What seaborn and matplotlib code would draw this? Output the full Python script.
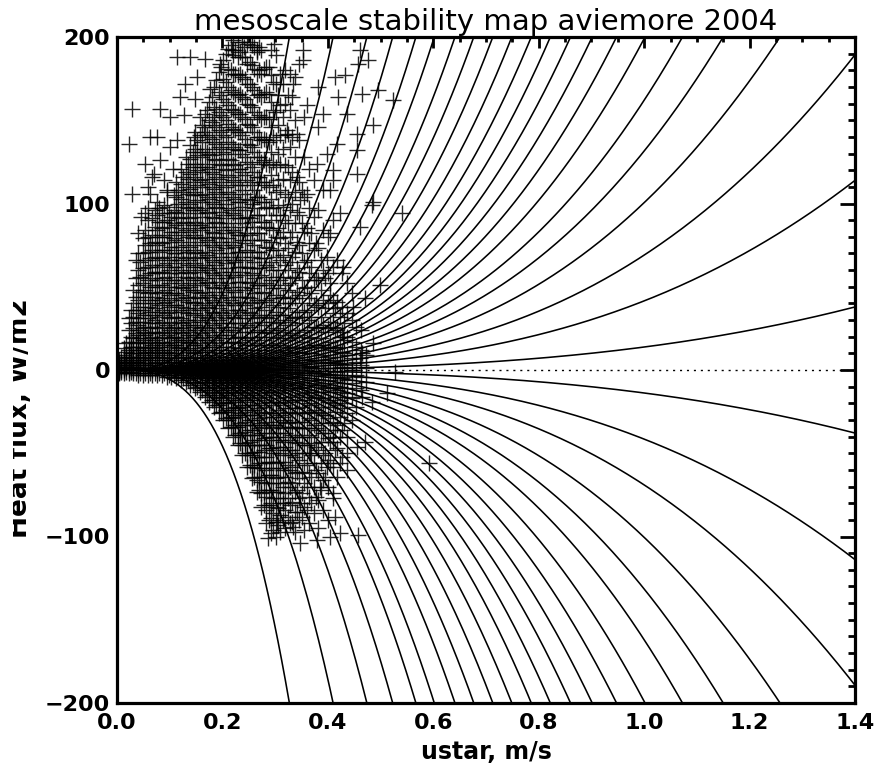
import numpy as np
import pandas as pd
import matplotlib
matplotlib.use("Agg")
import matplotlib.pyplot as plt
from matplotlib.ticker import MultipleLocator, FormatStrFormatter
from matplotlib.transforms import Bbox, TransformedBbox
import seaborn as sns

# ---------------- data ----------------
title = "mesoscale stability map aviemore 2004"
xlabel = "ustar, m/s"
ylabel = "Heat flux, W/m2"

stability_coeffs = [13.8, 41.5, 69, 100.5, 131.5, 162, 199, 235, 273, 314, 360,
                    412, 476, 552, 645, 759, 917, 1097, 1398, 1878, 2902, 5720]

# dense part of the scatter, organised in ustar columns (first set)
col_u = [0.004, 0.013, 0.022, 0.031, 0.040, 0.049, 0.058, 0.067, 0.076, 0.085,
         0.094, 0.103, 0.112, 0.121, 0.130, 0.139, 0.148, 0.157, 0.166, 0.175,
         0.184, 0.193, 0.202, 0.211, 0.220, 0.229, 0.238, 0.247, 0.256, 0.265,
         0.274, 0.283, 0.292, 0.301, 0.310, 0.319, 0.328, 0.337, 0.346, 0.355,
         0.364, 0.373, 0.382, 0.391, 0.400, 0.409, 0.418, 0.427, 0.436, 0.445,
         0.454, 0.463, 0.472]
col_h = [
    [-2, -1, 0, 1, 2, 4, 6],
    [-2, 0, 1, 2, 4, 6, 9, 13],
    [-2, 0, 1, 3, 5, 8, 12, 17, 24, 31],
    [-2, 0, 2, 4, 7, 10, 14, 19, 25, 32, 40, 48],
    [-3, 0, 2, 5, 8, 12, 16, 21, 27, 34, 42, 51, 60, 70, 82],
    [-3, 0, 3, 6, 9, 13, 18, 23, 29, 36, 44, 52, 61, 70, 79],
    [-3, 0, 3, 6, 10, 14, 19, 25, 31, 38, 46, 54, 62, 71, 80, 90, 97],
    [-3, 0, 3, 7, 11, 15, 20, 26, 33, 40, 47, 55, 63, 72, 81, 91],
    [-3, 0, 4, 8, 12, 16, 22, 28, 35, 42, 50, 58, 66, 75, 84, 93, 101],
    [-3, 0, 4, 8, 12, 17, 23, 29, 36, 43, 51, 59, 67, 76, 85, 94],
    [-4, -1, 3, 7, 11, 16, 21, 27, 34, 41, 48, 56, 64, 72, 81, 90, 98, 107],
    [-4, -1, 3, 7, 12, 17, 22, 28, 35, 42, 50, 58, 66, 74, 83, 92],
    [-5, -2, 2, 6, 10, 15, 20, 26, 32, 39, 46, 54, 62, 70, 78, 87, 95, 104, 113],
    [-6, -3, 1, 5, 9, 14, 19, 25, 31, 38, 45, 52, 60, 68, 77, 85, 94, 103, 112, 121],
    [-7, -4, 0, 4, 8, 13, 18, 24, 30, 37, 44, 51, 59, 67, 75, 84, 92, 101, 110, 119, 128],
    [-9, -5, -1, 3, 7, 12, 17, 23, 29, 36, 43, 50, 58, 66, 74, 83, 91, 100, 109, 118, 127, 135],
    [-11, -7, -3, 1, 5, 10, 15, 21, 27, 34, 41, 48, 56, 64, 72, 81, 89, 98, 107, 116, 124, 133, 143],
    [-13, -9, -5, -1, 3, 8, 13, 19, 25, 32, 39, 46, 54, 62, 70, 79, 87, 96, 105, 114, 122, 131, 141, 152],
    [-16, -12, -8, -4, 0, 4, 9, 14, 20, 26, 33, 40, 47, 55, 63, 71, 80, 88, 97, 106, 115, 124, 133, 143, 154],
    [-19, -15, -11, -7, -3, 1, 6, 11, 17, 23, 30, 37, 44, 52, 60, 68, 77, 86, 94, 103, 112, 121, 130, 140, 150, 161],
    [-22, -18, -14, -10, -6, -2, 3, 8, 14, 20, 27, 34, 41, 49, 57, 65, 74, 82, 91, 100, 109, 118, 127, 137, 147, 158, 170],
    [-26, -21, -17, -13, -9, -5, -1, 4, 10, 16, 23, 30, 37, 45, 53, 61, 70, 79, 88, 97, 106, 115, 124, 134, 144, 155, 167, 179],
    [-30, -25, -20, -16, -12, -8, -4, 1, 6, 12, 19, 26, 33, 41, 49, 57, 66, 75, 84, 93, 102, 111, 121, 131, 141, 152, 163, 175, 186],
    [-35, -30, -25, -20, -15, -11, -7, -3, 2, 8, 14, 21, 28, 36, 44, 52, 61, 70, 79, 88, 97, 107, 117, 127, 137, 148, 159, 170, 181, 193],
    [-40, -34, -29, -24, -19, -14, -10, -6, -1, 4, 10, 17, 24, 32, 40, 48, 57, 66, 75, 84, 94, 104, 114, 124, 134, 145, 156, 167, 178, 189, 198],
    [-45, -39, -34, -28, -23, -18, -13, -8, -4, 1, 7, 13, 20, 28, 36, 44, 53, 62, 71, 81, 91, 101, 111, 121, 132, 143, 154, 165, 177, 188, 197],
    [-51, -45, -39, -33, -27, -22, -17, -12, -7, -2, 4, 10, 17, 25, 33, 41, 50, 59, 68, 78, 88, 98, 108, 119, 130, 141, 152, 164, 176, 188, 197],
    [-58, -51, -45, -39, -33, -27, -21, -16, -11, -6, -1, 5, 12, 19, 27, 35, 44, 53, 62, 72, 82, 92, 103, 114, 125, 136, 148, 160, 172, 184, 196],
    [-65, -58, -51, -45, -39, -33, -27, -21, -15, -10, -5, 1, 8, 15, 23, 31, 40, 49, 58, 68, 78, 89, 100, 111, 122, 134, 146, 158, 170, 183, 195],
    [-73, -66, -59, -52, -45, -39, -33, -27, -21, -15, -9, -4, 2, 9, 16, 24, 33, 42, 51, 61, 71, 82, 93, 104, 116, 128, 140, 152, 165, 178, 191],
    [-82, -74, -67, -59, -52, -45, -38, -32, -26, -20, -14, -8, -2, 5, 12, 20, 29, 38, 47, 57, 67, 78, 89, 101, 113, 125, 138, 151, 164, 178, 192],
    [-92, -84, -76, -68, -60, -52, -45, -38, -31, -25, -18, -12, -6, 0, 7, 15, 23, 32, 42, 52, 63, 74, 86, 98, 111, 124, 138, 152, 167, 182],
    [-98, -89, -80, -72, -63, -55, -47, -40, -33, -26, -19, -13, -7, 0, 7, 15, 24, 33, 43, 54, 65, 77, 90, 103, 117, 131, 146, 161, 177, 192],
    [-100, -91, -82, -73, -65, -56, -48, -40, -33, -26, -19, -12, -6, 1, 8, 16, 25, 35, 45, 56, 68, 80, 93, 107, 122, 138, 155, 172, 189],
    [-97, -87, -77, -68, -59, -50, -42, -34, -27, -20, -13, -7, 0, 7, 15, 24, 33, 43, 54, 66, 79, 93, 108, 124, 141, 159, 178],
    [-95, -84, -74, -64, -55, -46, -38, -30, -23, -16, -9, -3, 4, 12, 21, 30, 40, 51, 63, 76, 90, 106, 123, 141, 160, 180],
    [-92, -81, -70, -60, -51, -42, -34, -26, -19, -12, -5, 2, 10, 19, 29, 40, 52, 65, 80, 96, 114, 134, 156, 178],
    [-97, -85, -73, -62, -52, -43, -34, -26, -18, -11, -4, 3, 11, 20, 31, 43, 56, 71, 88, 107, 128, 150, 176],
    [-90, -77, -65, -54, -44, -35, -26, -18, -11, -4, 3, 11, 21, 32, 45, 59, 75, 93, 113, 138, 184],
    [-96, -82, -68, -56, -45, -35, -26, -18, -10, -3, 4, 13, 23, 35, 49, 65, 83, 104, 128, 152],
    [-92, -76, -62, -50, -39, -29, -20, -12, -5, 2, 10, 19, 30, 43, 58, 76, 97, 121],
    [-86, -70, -56, -44, -33, -24, -15, -8, -1, 6, 15, 26, 39, 54, 72, 92, 114],
    [-95, -78, -62, -48, -36, -26, -17, -9, -2, 5, 14, 25, 38, 54, 73, 96],
    [-84, -66, -51, -38, -27, -17, -9, -2, 6, 15, 27, 42, 60, 84, 108],
    [-90, -70, -54, -41, -29, -19, -11, -3, 4, 13, 25, 40, 58, 80],
    [-77, -58, -43, -31, -20, -11, -3, 5, 14, 26, 42, 62, 90],
    [-64, -47, -33, -21, -12, -4, 4, 13, 25, 41, 66],
    [-52, -36, -23, -13, -5, 2, 11, 23, 38, 58],
    [-40, -26, -14, -6, 1, 9, 20, 34, 52],
    [-30, -17, -8, 0, 7, 17, 30, 46],
    [-22, -11, -3, 5, 14, 26],
    [-12, -4, 3, 12, 24],
    [-7, 1, 9],
]

# dense part, second (interleaved) set of columns
col2_u = [0.0085, 0.0175, 0.0265, 0.0355, 0.0445, 0.0535, 0.0625, 0.0715, 0.0805,
          0.0895, 0.0985, 0.1075, 0.1165, 0.1255, 0.1345, 0.1435, 0.1525, 0.1615,
          0.1705, 0.1795, 0.1885, 0.1975, 0.2065, 0.2155, 0.2245, 0.2335, 0.2425,
          0.2515, 0.2605, 0.2695, 0.2785, 0.2875, 0.2965, 0.3055, 0.3145, 0.3235,
          0.3325, 0.3415, 0.3505, 0.3595, 0.3685, 0.3775, 0.3865, 0.3955, 0.4045,
          0.4135, 0.4225, 0.4315]
col2_h = [
    [-1, 0, 2, 3, 5, 8],
    [-1, 1, 2, 3, 5, 7, 11, 16],
    [-1, 1, 2, 4, 6, 10, 14, 20, 28, 36],
    [-2, 1, 3, 5, 8, 12, 17, 22, 29, 36, 44, 55],
    [-2, 1, 3, 6, 10, 14, 19, 24, 31, 38, 47, 56, 65],
    [-2, 1, 4, 7, 11, 16, 21, 26, 33, 40, 48, 57, 66, 75, 84, 94],
    [-2, 1, 4, 8, 12, 17, 22, 28, 35, 42, 50, 58, 67, 76],
    [-2, 1, 5, 9, 13, 18, 23, 30, 37, 44, 51, 59, 68, 77, 86, 96],
    [-2, 2, 6, 10, 14, 19, 25, 32, 39, 46, 54, 62, 71, 80, 89, 97],
    [-2, 2, 6, 10, 15, 20, 26, 33, 40, 47, 55, 63, 72, 80, 89, 99],
    [-3, 1, 5, 9, 14, 19, 24, 31, 38, 45, 52, 60, 68, 77, 86, 94],
    [-3, 1, 5, 10, 15, 20, 25, 32, 39, 46, 54, 62, 70, 79, 88, 96, 105],
    [-4, 0, 4, 8, 13, 18, 23, 29, 36, 43, 50, 58, 66, 74, 83, 91, 100, 108],
    [-5, -1, 3, 7, 12, 17, 22, 28, 35, 42, 49, 56, 64, 72, 81, 89, 98, 107, 116],
    [-6, -2, 2, 6, 11, 16, 21, 27, 34, 41, 48, 55, 63, 71, 80, 88, 97, 106, 115, 124],
    [-8, -3, 1, 5, 10, 15, 20, 26, 33, 40, 47, 54, 62, 70, 79, 87, 96, 105, 113, 122, 131],
    [-10, -5, -1, 3, 7, 12, 18, 24, 30, 37, 44, 52, 60, 68, 77, 85, 94, 102, 111, 120, 129, 138],
    [-12, -7, -3, 1, 6, 11, 16, 22, 29, 36, 43, 51, 59, 67, 75, 84, 92, 101, 110, 119, 128, 137, 147],
    [-15, -10, -6, -2, 2, 7, 12, 18, 24, 31, 38, 45, 53, 61, 69, 78, 86, 95, 104, 113, 122, 131, 141, 156],
    [-18, -13, -9, -5, -1, 4, 9, 15, 21, 28, 35, 42, 50, 58, 66, 75, 83, 92, 101, 110, 119, 129, 139, 149, 164],
    [-21, -16, -12, -8, -4, 1, 6, 12, 18, 25, 32, 39, 47, 55, 63, 72, 80, 89, 98, 107, 116, 126, 136, 146, 157, 174],
    [-25, -20, -15, -11, -7, -3, 2, 8, 14, 21, 28, 35, 43, 51, 59, 68, 77, 86, 95, 104, 113, 123, 133, 143, 153, 165, 182],
    [-29, -24, -19, -14, -10, -6, -1, 4, 10, 17, 24, 31, 39, 47, 55, 64, 73, 82, 91, 100, 110, 120, 130, 140, 150, 161, 173, 190],
    [-34, -28, -23, -18, -13, -9, -5, 0, 6, 12, 19, 26, 34, 42, 50, 59, 68, 77, 86, 96, 106, 116, 126, 136, 146, 157, 168, 180, 195],
    [-39, -33, -27, -22, -17, -12, -7, -2, 3, 9, 16, 23, 31, 39, 47, 56, 65, 74, 83, 93, 103, 113, 123, 133, 144, 155, 166, 178, 192],
    [-44, -38, -32, -26, -21, -15, -10, -5, 0, 6, 13, 20, 28, 36, 44, 53, 62, 71, 81, 91, 101, 111, 121, 132, 143, 154, 166, 178, 191],
    [-50, -44, -37, -31, -25, -19, -14, -9, -4, 2, 8, 15, 23, 31, 39, 48, 57, 66, 76, 86, 96, 106, 117, 128, 139, 151, 163, 175, 188],
    [-57, -50, -43, -36, -30, -24, -18, -13, -8, -3, 3, 10, 18, 26, 34, 43, 52, 61, 71, 81, 91, 102, 113, 124, 135, 147, 159, 172, 185, 197],
    [-64, -57, -49, -42, -36, -30, -24, -18, -12, -7, -1, 5, 12, 20, 28, 37, 46, 55, 65, 75, 86, 97, 108, 119, 131, 143, 155, 168, 181, 194],
    [-72, -64, -56, -49, -42, -35, -29, -23, -17, -11, -5, 1, 8, 15, 23, 32, 41, 51, 61, 71, 82, 93, 104, 116, 128, 140, 153, 166, 180, 194],
    [-81, -73, -64, -56, -48, -41, -34, -28, -22, -16, -10, -4, 3, 10, 18, 27, 36, 46, 56, 67, 78, 89, 101, 113, 126, 139, 152, 166, 181],
    [-90, -81, -72, -63, -55, -47, -40, -33, -26, -19, -13, -7, -1, 6, 14, 22, 31, 41, 51, 62, 73, 85, 97, 110, 123, 137, 151, 166, 182],
    [-96, -86, -77, -68, -59, -50, -42, -35, -28, -21, -15, -9, -3, 4, 12, 20, 29, 39, 49, 60, 72, 84, 97, 111, 125, 140, 156, 173],
    [-93, -83, -73, -64, -55, -46, -38, -31, -24, -17, -10, -4, 3, 11, 19, 28, 38, 49, 60, 72, 85, 99, 114, 130, 147, 165],
    [-90, -80, -70, -60, -51, -43, -35, -28, -21, -14, -8, -1, 6, 14, 23, 33, 44, 56, 69, 83, 98, 115, 133, 152, 172],
    [-88, -77, -67, -57, -48, -40, -32, -25, -18, -11, -5, 2, 9, 18, 27, 37, 48, 60, 73, 88, 104, 122, 142, 165],
    [-91, -79, -68, -58, -48, -39, -31, -23, -16, -9, -2, 5, 13, 22, 32, 43, 55, 68, 83, 100, 119, 140, 164],
    [-85, -72, -61, -50, -40, -31, -23, -15, -8, -1, 6, 14, 24, 35, 47, 61, 77, 95, 116, 142],
    [-88, -74, -61, -50, -40, -31, -22, -14, -7, 0, 8, 17, 28, 40, 54, 70, 88, 108],
    [-84, -70, -57, -45, -35, -25, -16, -9, -2, 6, 14, 24, 36, 50, 66, 85, 106],
    [-80, -64, -51, -40, -30, -21, -13, -6, 2, 10, 20, 32, 46, 62, 82],
    [-76, -60, -46, -35, -25, -16, -9, -2, 6, 15, 26, 40, 56, 76],
    [-72, -56, -43, -32, -22, -13, -6, 1, 9, 19, 32, 48, 66],
    [-64, -50, -38, -27, -18, -10, -3, 4, 12, 23, 37, 55],
    [-56, -43, -32, -22, -13, -6, 1, 8, 17, 29, 45],
    [-48, -36, -25, -16, -8, -1, 6, 14, 24, 37],
    [-40, -28, -18, -10, -3, 4, 11, 20, 32],
    [-32, -20, -11, -4, 3, 10, 18, 28],
]

# sparse / isolated points
sparse_u = [0.028, 0.022, 0.028, 0.053, 0.063, 0.076, 0.066, 0.063, 0.082, 0.082,
            0.095, 0.100, 0.100, 0.113, 0.114, 0.127, 0.120, 0.129, 0.139, 0.146,
            0.148, 0.152, 0.165, 0.167, 0.176, 0.184, 0.196, 0.218, 0.240, 0.265,
            0.297, 0.353, 0.353, 0.334, 0.382, 0.414, 0.433, 0.457, 0.477, 0.461,
            0.420, 0.465, 0.495, 0.524, 0.486, 0.455, 0.436, 0.391, 0.360, 0.382,
            0.322, 0.417, 0.455, 0.398, 0.380, 0.410, 0.410, 0.455, 0.404, 0.486,
            0.347, 0.483, 0.540, 0.461, 0.429, 0.499, 0.471, 0.448, 0.410, 0.429,
            0.486, 0.465, 0.527, 0.446, 0.423, 0.404, 0.398, 0.404, 0.461,
            0.591, 0.512, 0.483, 0.465, 0.436, 0.471, 0.455, 0.436, 0.423, 0.458,
            0.423, 0.404, 0.379, 0.347, 0.334, 0.287, 0.303, 0.414, 0.347, 0.315,
            0.410, 0.385, 0.436, 0.398, 0.366, 0.410,
            0.045, 0.058, 0.071, 0.090, 0.107, 0.036]
sparse_h = [157, 136, 106, 124, 140, 140, 116, 106, 157, 126,
            108, 152, 134, 138, 188, 153, 164, 172, 188, 140,
            163, 176, 146, 187, 169, 152, 184, 192, 194, 192,
            196, 192, 186, 172, 170, 176, 177, 184, 186, 192,
            164, 166, 168, 162, 147, 142, 154, 154, 159, 146,
            144, 136, 132, 130, 124, 120, 114, 118, 108, 101,
            102, 99, 94, 86, 62, 51, 43, 38, 34, 20,
            16, 10, -1, 0, 94, 82, 68, 52, 7,
            -56, -14, -19, -16, -16, -43, -46, -50, -56, -99,
            -98, -100, -102, -104, -94, -101, -91, -88, -80, -80,
            -74, -70, -60, -58, -50, -40,
            92, 110, 118, 114, 121, 66]

x_ticks = [0.0, 0.2, 0.4, 0.6, 0.8, 1.0, 1.2, 1.4]
y_ticks = [-200, -100, 0, 100, 200]

# ---------------- build tables ----------------
pts_u, pts_h = [], []
for us, hs_all in ((col_u, col_h), (col2_u, col2_h)):
    for u, hs in zip(us, hs_all):
        pts_u += [u] * len(hs)
        pts_h += hs
pts_u += sparse_u
pts_h += sparse_h
scatter_df = pd.DataFrame({"ustar": pts_u, "H": pts_h})

ugrid = np.linspace(0, 1.4, 400)
rows = []
for i, c in enumerate(stability_coeffs):
    for sgn in (1, -1):
        rows.append(pd.DataFrame({"ustar": ugrid, "H": sgn * c * ugrid ** 3,
                                  "curve": f"{sgn}_{i}"}))
curves_df = pd.concat(rows, ignore_index=True)

# ---------------- plot ----------------
sns.set_theme(style="white")
plt.rcParams["font.family"] = ["DejaVu Sans"]
plt.rcParams["text.color"] = "black"
plt.rcParams["axes.labelcolor"] = "black"

fig = plt.figure(figsize=(8.75, 7.7), dpi=100)
ax = fig.add_axes([117 / 875, 67 / 770, 738 / 875, 666 / 770])

sns.scatterplot(data=scatter_df, x="ustar", y="H", marker="+", s=120,
                color="black", linewidth=1.0, alpha=0.85, ax=ax, zorder=2,
                legend=False)
sns.lineplot(data=curves_df, x="ustar", y="H", units="curve", estimator=None,
             sort=False, color="black", linewidth=1.15, ax=ax, zorder=3,
             legend=False)
ax.axhline(0, color="black", linewidth=1.0, linestyle=(0, (1.5, 3.5)), zorder=1)

ax.set_xlim(0, 1.4)
ax.set_ylim(-200, 200)
ax.set_xticks(x_ticks)
ax.set_yticks(y_ticks)
ax.xaxis.set_major_formatter(FormatStrFormatter("%.1f"))
ax.xaxis.set_minor_locator(MultipleLocator(0.05))
ax.yaxis.set_minor_locator(MultipleLocator(10))
ax.tick_params(axis="both", which="both", direction="in", top=True, right=True,
               width=2.0, color="black", labelsize=16, labelcolor="black")
ax.tick_params(axis="x", which="major", length=8, pad=7)
ax.tick_params(axis="x", which="minor", length=3.8)
ax.tick_params(axis="y", which="major", length=10.5, pad=5)
ax.tick_params(axis="y", which="minor", length=5)
for lab in ax.get_xticklabels() + ax.get_yticklabels():
    lab.set_fontweight("bold")
for sp in ax.spines.values():
    sp.set_linewidth(2.3)
    sp.set_color("black")

ax.set_xlabel(xlabel, fontsize=17, fontweight="bold", labelpad=5, color="black")
ax.set_ylabel("")
ax.set_title(title, fontsize=21, pad=5, color="black")

t = fig.text(33 / 875, 352 / 770, ylabel, rotation=90, ha="right", va="center",
             fontsize=19, fontweight="bold", color="black")
t.set_clip_box(TransformedBbox(Bbox([[13 / 875, 0], [1, 1]]), fig.transFigure))
t.set_clip_on(True)

fig.savefig("out.png", dpi=100)
